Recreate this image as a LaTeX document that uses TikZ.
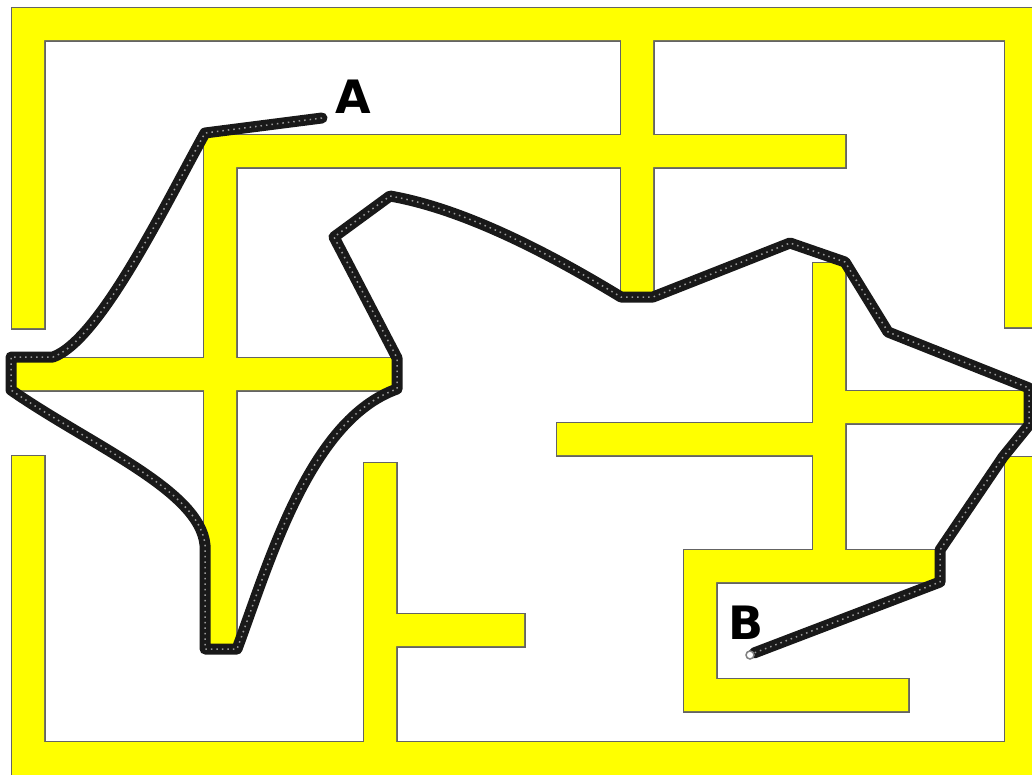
\documentclass[tikz,border=0pt]{standalone}
\usepackage{fontspec}
\newfontfamily\labfont{DejaVu Sans}
\definecolor{wallyellow}{RGB}{255,255,0}
\definecolor{walledge}{RGB}{100,100,100}
\definecolor{pathdark}{RGB}{25,25,25}
\begin{document}
\begin{tikzpicture}[x=1pt,y=-1pt,
  wallline/.style={draw=walledge,line width=3pt},
  wallfill/.style={fill=wallyellow},
  routeline/.style={draw=pathdark,line width=11pt,line join=round,line cap=round},
  routebeads/.style={draw=white!60!black,line width=1.5pt,dash pattern=on 1.5pt off 4pt,line join=round},
  lab/.style={font=\labfont\bfseries\fontsize{46}{50}\selectfont,inner sep=0pt}]
\clip (0,0) rectangle (1032,774);
\fill[white] (0,0) rectangle (1032,774);
% wall rectangles
\def\walls{
  (12,8) rectangle (1045,40)
  (12,8) rectangle (44,328)
  (12,456) rectangle (44,790)
  (12,742) rectangle (1045,790)
  (1005,8) rectangle (1045,327)
  (1005,457) rectangle (1045,790)
  (621,8) rectangle (653,298)
  (204,135) rectangle (845,167)
  (204,135) rectangle (236,650)
  (16,358) rectangle (398,390)
  (364,463) rectangle (396,790)
  (364,614) rectangle (524,646)
  (813,263) rectangle (845,552)
  (557,423) rectangle (845,455)
  (813,391) rectangle (1045,423)
  (684,550) rectangle (938,582)
  (684,550) rectangle (716,711)
  (684,679) rectangle (908,711)
}
\path[wallline] \walls;
\path[wallfill] \walls;
% route from A to B
\def\route{
  (322,118) -- (205,133)
  .. controls (165,205) and (100,340) .. (53,357)
  -- (11,357) -- (11,390)
  .. controls (90,445) and (200,490) .. (205,545)
  -- (205,649) -- (237,649)
  .. controls (270,560) and (310,420) .. (397,389)
  -- (397,358) -- (334,237) -- (390,196)
  .. controls (470,210) and (560,260) .. (621,297)
  -- (653,297) -- (790,243) -- (845,262) -- (888,332)
  -- (1029,388) -- (1029,425) -- (1003,457) -- (940,550)
  -- (940,582) -- (754,653)
}
\path[routeline] \route;
\path[routebeads] \route;
\draw[draw=gray,line width=1.5pt,fill=white] (750,655) circle (4);
\node[lab] (A) at (353,97) {A};
\node[lab] (B) at (746,623) {B};
\end{tikzpicture}
\end{document}
